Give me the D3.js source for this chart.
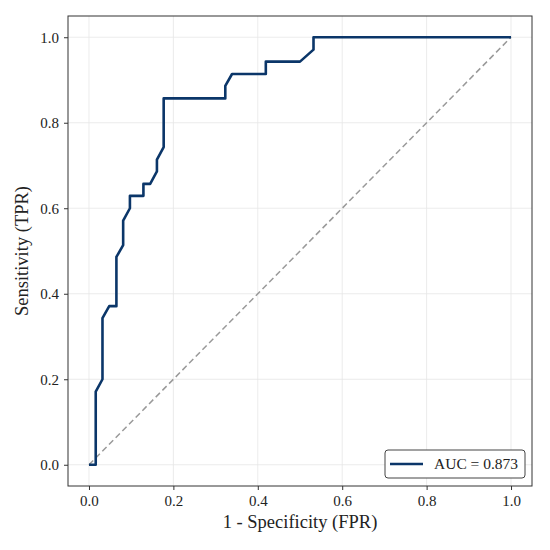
<!DOCTYPE html>
<html><head><meta charset="utf-8">
<script src="https://cdn.jsdelivr.net/npm/d3@7"></script>
<style>body{margin:0;background:#fff}</style>
</head><body>
<svg id="c" width="550" height="550"></svg>
<script>
const fpr = [0,0.016,0.016,0.032,0.032,0.048,0.065,0.065,0.081,0.081,0.097,0.097,0.129,0.129,0.145,0.161,0.161,0.177,0.177,0.323,0.323,0.339,0.419,0.419,0.5,0.532,0.532,1];
const tpr = [0,0,0.171,0.2,0.343,0.371,0.371,0.486,0.514,0.571,0.6,0.629,0.629,0.657,0.657,0.686,0.714,0.743,0.857,0.857,0.886,0.914,0.914,0.943,0.943,0.971,1,1];
const ticks = [0,0.2,0.4,0.6,0.8,1.0];
const aucLabel = "AUC = 0.873";

const svg = d3.select("#c");
const L=68,R=532,T=16,B=486;
const x = d3.scaleLinear().domain([-0.0497,1.0497]).range([L,R]);
const y = d3.scaleLinear().domain([-0.0497,1.0497]).range([B,T]);
const font = "'Liberation Serif', 'DejaVu Serif', serif";

// grid
svg.append("g").selectAll("line.gx").data(ticks).join("line")
  .attr("x1",d=>x(d)).attr("x2",d=>x(d)).attr("y1",T).attr("y2",B)
  .attr("stroke","#e6e6e6").attr("stroke-width",0.8);
svg.append("g").selectAll("line.gy").data(ticks).join("line")
  .attr("y1",d=>y(d)).attr("y2",d=>y(d)).attr("x1",L).attr("x2",R)
  .attr("stroke","#e6e6e6").attr("stroke-width",0.8);

// diagonal
svg.append("line").attr("x1",x(0)).attr("y1",y(0)).attr("x2",x(1)).attr("y2",y(1))
  .attr("stroke","#999").attr("stroke-width",1.5).attr("stroke-dasharray","6,3.5");

// ROC
const pts = fpr.map((f,i)=>[f,tpr[i]]);
svg.append("path").datum(pts)
  .attr("d",d3.line().x(d=>x(d[0])).y(d=>y(d[1])))
  .attr("fill","none").attr("stroke","#0b3669").attr("stroke-width",2.6)
  .attr("stroke-linejoin","round");

// axes
const xa = svg.append("g").attr("transform",`translate(0,${B})`)
  .call(d3.axisBottom(x).tickValues(ticks).tickFormat(d3.format(".1f")).tickSize(4).tickPadding(5));
const ya = svg.append("g").attr("transform",`translate(${L},0)`)
  .call(d3.axisLeft(y).tickValues(ticks).tickFormat(d3.format(".1f")).tickSize(4).tickPadding(5));
[xa,ya].forEach(a=>{
  a.select(".domain").remove();
  a.selectAll("line").attr("stroke","#333");
  a.selectAll("text").attr("font-family",font).attr("font-size",15).attr("fill","#222");
});
svg.append("rect").attr("x",L).attr("y",T).attr("width",R-L).attr("height",B-T)
  .attr("fill","none").attr("stroke","#333").attr("stroke-width",1);

svg.append("text").attr("x",(L+R)/2).attr("y",528).attr("text-anchor","middle")
  .attr("font-family",font).attr("font-size",18.5).attr("fill","#222").text("1 - Specificity (FPR)");
svg.append("text").attr("transform",`translate(28,${(T+B)/2}) rotate(-90)`).attr("text-anchor","middle")
  .attr("font-family",font).attr("font-size",18.5).attr("fill","#222").text("Sensitivity (TPR)");

// legend
const lg = svg.append("g");
lg.append("rect").attr("x",385).attr("y",450).attr("width",140).attr("height",28).attr("rx",3)
  .attr("fill","#fff").attr("stroke","#444").attr("stroke-width",1);
lg.append("line").attr("x1",390).attr("x2",423).attr("y1",464).attr("y2",464)
  .attr("stroke","#0b3669").attr("stroke-width",2.6);
lg.append("text").attr("x",434).attr("y",469).attr("font-family",font).attr("font-size",15.5)
  .attr("fill","#222").text(aucLabel);
</script>
</body></html>
